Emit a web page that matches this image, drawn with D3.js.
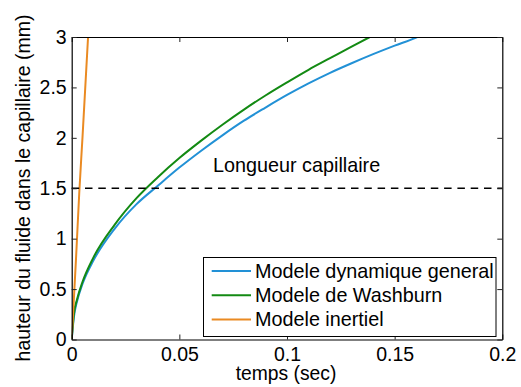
<!DOCTYPE html>
<html>
<head>

<meta charset="utf-8">
<title>Hauteur du fluide</title>
<script type="text/javascript" src="https://cdn.jsdelivr.net/npm/d3@7/dist/d3.min.js"></script>

<style>

	body {
		margin: 0;
		background: white;
	}

	svg text {
		font-family: "Liberation Sans", Arial, sans-serif;
		fill: black;
	}

	.curve {
		fill: none;
		stroke-width: 2px;
	}

</style>

</head>
<body>

<svg id="chart"></svg>

<script type="text/javascript">

	// temps (sec) et hauteur (mm)
	var tGeneral = [ 0, 0.001, 0.0025, 0.005, 0.01, 0.02, 0.03, 0.04, 0.05, 0.06, 0.07, 0.08,
		0.09, 0.10, 0.11, 0.12, 0.13, 0.14, 0.15, 0.16, 0.1605 ];
	var hGeneral = [ 0, 0.22, 0.38, 0.55, 0.78, 1.10, 1.34, 1.525, 1.705, 1.87, 2.025, 2.17,
		2.30, 2.425, 2.54, 2.645, 2.74, 2.83, 2.915, 2.995, 3.0 ];

	var tWashburn = [ 0, 0.001, 0.0025, 0.005, 0.01, 0.02, 0.03, 0.04, 0.05, 0.06, 0.07, 0.08,
		0.09, 0.10, 0.11, 0.12, 0.13, 0.1385 ];
	var hWashburn = [ 0, 0.25, 0.40, 0.57, 0.81, 1.14, 1.40, 1.61, 1.80, 1.97, 2.13, 2.28,
		2.42, 2.55, 2.675, 2.79, 2.905, 3.0 ];

	var tInertiel = [ 0, 0.002, 0.0035, 0.005, 0.0076 ];
	var hInertiel = [ 0, 0.80, 1.45, 2.00, 3.0 ];

	var seriesNames = [ "Modele dynamique general", "Modele de Washburn", "Modele inertiel" ];
	var seriesColors = [ "#2291d6", "#138a13", "#ea8a22" ];

	var xTicks = [ 0, 0.05, 0.1, 0.15, 0.2 ];
	var yTicks = [ 0, 0.5, 1, 1.5, 2, 2.5, 3 ];
	var capillaryLength = 1.5;

	var width = 521, height = 387,
		plotLeft = 71.7, plotRight = 502.3, plotTop = 37, plotBottom = 339.5,
		tickLen = 5;

	var series = [
		{ name: seriesNames[0], color: seriesColors[0], pts: d3.zip( tGeneral, hGeneral ) },
		{ name: seriesNames[1], color: seriesColors[1], pts: d3.zip( tWashburn, hWashburn ) },
		{ name: seriesNames[2], color: seriesColors[2], pts: d3.zip( tInertiel, hInertiel ) }
	];

	var x = d3.scaleLinear().domain( [ 0, 0.2 ] ).range( [ plotLeft, plotRight ] );
	var y = d3.scaleLinear().domain( [ 0, 3 ] ).range( [ plotBottom, plotTop ] );

	var svg = d3.select( "svg#chart" )
		.attr( "width", width )
		.attr( "height", height );

	svg.append( "clipPath" ).attr( "id", "plotclip" )
		.append( "rect" )
			.attr( "x", plotLeft ).attr( "y", plotTop )
			.attr( "width", plotRight - plotLeft ).attr( "height", plotBottom - plotTop );

	// courbes
	var line = d3.line()
		.x( d => x( d[0] ) )
		.y( d => y( d[1] ) )
		.curve( d3.curveMonotoneX );

	svg.append( "g" )
		.attr( "clip-path", "url(#plotclip)" )
		.selectAll( "path" )
		.data( series ).enter().append( "path" )
			.classed( "curve", true )
			.attr( "stroke", d => d.color )
			.attr( "d", d => line( d.pts ) );

	// longueur capillaire
	svg.append( "line" )
		.attr( "x1", x( 0 ) ).attr( "x2", x( 0.2 ) )
		.attr( "y1", y( capillaryLength ) ).attr( "y2", y( capillaryLength ) )
		.attr( "stroke", "black" )
		.attr( "stroke-width", 1.6 )
		.attr( "stroke-dasharray", "7.5,5.8" );

	svg.append( "text" )
		.attr( "x", 213 )
		.attr( "y", 172 )
		.style( "font-size", "19.8px" )
		.text( "Longueur capillaire" );

	// axes (boite, graduations vers l'interieur)
	var fmt = d => String( d );
	var axes = [
		d3.axisBottom( x ).tickValues( xTicks ).tickFormat( fmt ).tickPadding( 8 ),
		d3.axisTop( x ).tickValues( xTicks ).tickFormat( "" ),
		d3.axisLeft( y ).tickValues( yTicks ).tickFormat( fmt ).tickPadding( 5 ),
		d3.axisRight( y ).tickValues( yTicks ).tickFormat( "" )
	];
	var pos = [ [ 0, plotBottom ], [ 0, plotTop ], [ plotLeft, 0 ], [ plotRight, 0 ] ];

	axes.forEach( function( ax, i ) {
		var g = svg.append( "g" )
			.attr( "transform", "translate(" + pos[i][0] + "," + pos[i][1] + ")" )
			.call( ax.tickSizeInner( -tickLen ).tickSizeOuter( 0 ) );
		g.attr( "font-family", null ).attr( "font-size", null );
		g.select( ".domain" ).attr( "stroke", "black" ).attr( "stroke-width", 1.2 );
		g.selectAll( ".tick line" ).attr( "stroke", "#222" );
		g.selectAll( "text" ).style( "font-size", "19.5px" );
	} );

	// labels des axes
	svg.append( "text" )
		.attr( "x", 286 )
		.attr( "y", 380 )
		.attr( "text-anchor", "middle" )
		.style( "font-size", "19.3px" )
		.text( "temps (sec)" );

	svg.append( "text" )
		.attr( "transform", "translate(29.5,188) rotate(-90)" )
		.attr( "text-anchor", "middle" )
		.style( "font-size", "19.5px" )
		.text( "hauteur du fluide dans le capillaire (mm)" );

	// legende
	var lg = svg.append( "g" );
	lg.append( "rect" )
		.attr( "x", 203.5 ).attr( "y", 257.5 )
		.attr( "width", 292.5 ).attr( "height", 79 )
		.attr( "fill", "white" )
		.attr( "stroke", "black" );

	var items = lg.selectAll( "g.item" )
		.data( series ).enter().append( "g" )
			.attr( "transform", ( d, i ) => "translate(0," + ( 271 + i * 24.2 ) + ")" );
	items.append( "line" )
		.attr( "x1", 211.7 ).attr( "x2", 251 )
		.attr( "stroke", d => d.color )
		.attr( "stroke-width", 2 );
	items.append( "text" )
		.attr( "x", 255 )
		.attr( "dy", "0.35em" )
		.style( "font-size", "19.8px" )
		.text( d => d.name );

</script>
</body>
</html>
